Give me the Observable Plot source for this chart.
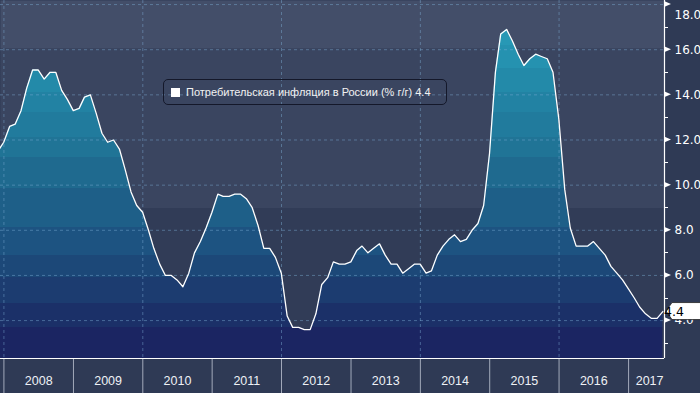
<!DOCTYPE html>
<html><head><meta charset="utf-8">
<script src="https://cdn.jsdelivr.net/npm/d3@7"></script>
<script src="https://cdn.jsdelivr.net/npm/@observablehq/plot@0.6"></script>
<style>
html,body{margin:0;padding:0;background:#2f3a55;}
#wrap{position:relative;width:700px;height:393px;overflow:hidden;}
#legend{position:absolute;left:163px;top:79px;width:282px;height:24px;border:1.5px solid #14182a;border-radius:5px;font:11px "Liberation Sans",Arial,sans-serif;color:#f2f2f2;}
#legend .sw{position:absolute;left:7px;top:7.5px;width:9px;height:9px;background:#fff;}
#legend .tx{position:absolute;left:22px;top:0;line-height:24px;white-space:nowrap;}
</style></head><body><div id="wrap"></div>
<script>
// Russia consumer inflation, % y/y, monthly (plotted at month end)
const cpi2007 = [11.5, 11.9]; // Nov, Dec
const cpi2008 = [12.6, 12.7, 13.3, 14.3, 15.1, 15.1, 14.7, 15.0, 15.0, 14.2, 13.8, 13.3];
const cpi2009 = [13.4, 13.9, 14.0, 13.2, 12.3, 11.9, 12.0, 11.6, 10.7, 9.7, 9.1, 8.8];
const cpi2010 = [8.0, 7.2, 6.5, 6.0, 6.0, 5.8, 5.5, 6.1, 7.0, 7.5, 8.1, 8.8];
const cpi2011 = [9.6, 9.5, 9.5, 9.6, 9.6, 9.4, 9.0, 8.2, 7.2, 7.2, 6.8, 6.1];
const cpi2012 = [4.2, 3.7, 3.7, 3.6, 3.6, 4.3, 5.6, 5.9, 6.6, 6.5, 6.5, 6.6];
const cpi2013 = [7.1, 7.3, 7.0, 7.2, 7.4, 6.9, 6.5, 6.5, 6.1, 6.3, 6.5, 6.5];
const cpi2014 = [6.1, 6.2, 6.9, 7.3, 7.6, 7.8, 7.5, 7.6, 8.0, 8.3, 9.1, 11.4];
const cpi2015 = [15.0, 16.7, 16.9, 16.4, 15.8, 15.3, 15.6, 15.8, 15.7, 15.6, 15.0, 12.9];
const cpi2016 = [9.8, 8.1, 7.3, 7.3, 7.3, 7.5, 7.2, 6.9, 6.4, 6.1, 5.8, 5.4];
const cpi2017 = [5.0, 4.6, 4.3, 4.1, 4.1, 4.4];

const seriesName = "Потребительская инфляция в России (% г/г)";
const yearLabels = ["2008","2009","2010","2011","2012","2013","2014","2015","2016","2017"];
const majorTicks = [4, 6, 8, 10, 12, 14, 16, 18];
const minorTicks = [3, 5, 7, 9, 11, 13, 15, 17];
const xDomain = [new Date(Date.UTC(2007, 11, 14)), new Date(Date.UTC(2017, 6, 9))];
const yDomain = [2.32, 18.18];

const blocks = [[2007, 10, cpi2007], [2008, 0, cpi2008], [2009, 0, cpi2009], [2010, 0, cpi2010],
  [2011, 0, cpi2011], [2012, 0, cpi2012], [2013, 0, cpi2013], [2014, 0, cpi2014],
  [2015, 0, cpi2015], [2016, 0, cpi2016], [2017, 0, cpi2017]];
const data = [];
for (const [yr, m0, vals] of blocks) vals.forEach((v, i) => data.push({date: new Date(Date.UTC(yr, m0 + i + 1, 0)), value: v}));
const last = data[data.length - 1];

const yearStarts = yearLabels.map(y => new Date(Date.UTC(+y, 0, 1)));
const gridYears = yearStarts.filter((d, i) => i % 2 === 0);
const yearMid = y => {
  const a = Math.max(+new Date(Date.UTC(+y, 0, 1)), +xDomain[0]);
  const b = Math.min(+new Date(Date.UTC(+y + 1, 0, 1)), +xDomain[1]);
  return new Date((a + b) / 2);
};

// style: stepped colour bands (pixel bands, as in the terminal chart)
const bgBands = [[0, 48, "#434e69"], [48, 207, "#3a4560"], [207, 358, "#313c57"]];
const areaBands = [[0,45,"#2798b5"],[45,68,"#2592b0"],[68,92,"#238aa9"],[92,112,"#2282a3"],[112,137,"#217b9d"],
  [137,157,"#207496"],[157,188,"#1f6a8f"],[188,227,"#1e5f88"],[227,255,"#1d5381"],[255,277,"#1c4878"],
  [277,303,"#1c3c70"],[303,327,"#1b3068"],[327,358,"#1b2562"]];

function defsMark(index, scales, values, dimensions) {
  const defs = d3.create("svg:defs");
  const bottom = dimensions.height - dimensions.marginBottom;
  for (const [id, bands] of [["bgGrad", bgBands], ["areaGrad", areaBands]]) {
    const g = defs.append("linearGradient").attr("id", id).attr("gradientUnits", "userSpaceOnUse")
      .attr("x1", 0).attr("x2", 0).attr("y1", 0).attr("y2", bottom);
    for (const [a, b, c] of bands) {
      g.append("stop").attr("offset", a / bottom).attr("stop-color", c);
      g.append("stop").attr("offset", Math.min(1, b / bottom)).attr("stop-color", c);
    }
  }
  return defs.node();
}

function axisDecor(index, scales, values, dimensions) {
  const x0 = dimensions.width - dimensions.marginRight;
  const g = d3.create("svg:g").attr("class", "decor");
  for (const v of majorTicks) {
    const y = scales.y(v);
    g.append("path").attr("d", `M${x0},${y - 3}L${x0 + 7},${y}L${x0},${y + 3}Z`).attr("fill", "#fff");
  }
  for (const v of minorTicks) {
    const y = Math.round(scales.y(v)) + 0.5;
    g.append("line").attr("x1", x0).attr("x2", x0 + 4).attr("y1", y).attr("y2", y).attr("stroke", "#fff");
  }
  const y = scales.y(last.value);
  g.append("path")
    .attr("d", `M${x0 + 2},${y}L${x0 + 8},${y - 8.5}H${dimensions.width + 2}V${y + 8.5}H${x0 + 8}Z`)
    .attr("fill", "#fff").attr("stroke", "#222").attr("stroke-width", 0.8);
  g.append("text").attr("x", x0 + 10).attr("y", y).attr("dy", "0.36em")
    .attr("fill", "#000").attr("font-family", "'DejaVu Sans', sans-serif").attr("font-size", 12.5)
    .text(last.value.toFixed(1));
  return g.node();
}

const gridStyle = {stroke: "#7fb0d6", strokeOpacity: 0.45, strokeDasharray: "3,3"};
const labelStyle = {fill: "#eef1f5", fontSize: 12.5, fontFamily: "'Liberation Sans', Arial, sans-serif"};

const chart = Plot.plot({
  width: 700, height: 393,
  marginLeft: 0, marginRight: 36, marginTop: 0, marginBottom: 35,
  style: {background: "#2f3a55", color: "#ffffff", fontFamily: "'DejaVu Sans', sans-serif", fontSize: "12px"},
  x: {type: "utc", domain: xDomain, axis: "bottom", ticks: yearStarts, tickSize: 35, tickFormat: () => "", label: null},
  y: {domain: yDomain, axis: "right", ticks: majorTicks, tickSize: 0, tickPadding: 10, tickFormat: d => d.toFixed(1), label: null},
  marks: [
    defsMark,
    Plot.frame({fill: "url(#bgGrad)", stroke: "none"}),
    Plot.area(data, {x1: "date", y1: () => yDomain[0], y2: "value", fill: "url(#areaGrad)"}),
    Plot.ruleY(majorTicks, gridStyle),
    Plot.ruleX(gridYears, gridStyle),
    Plot.line(data, {x: "date", y: "value", stroke: "#ffffff", strokeWidth: 1.3}),
    Plot.ruleY([yDomain[0]], {stroke: "#ffffff", strokeWidth: 1.2}),
    Plot.ruleX([xDomain[1]], {stroke: "#ffffff", strokeWidth: 1.2}),
    Plot.text(yearLabels.slice(0, -1), {x: yearMid, text: d => d, frameAnchor: "bottom", dy: 26, ...labelStyle}),
    Plot.text(yearLabels.slice(-1), {x: () => xDomain[1], text: d => d, frameAnchor: "bottom", dy: 26, textAnchor: "end", dx: -1, ...labelStyle}),
    axisDecor
  ]
});

const svg = d3.select(chart);
svg.selectAll('[aria-label^="x-axis"]').style("color", "#a3aabb");
svg.selectAll('[aria-label^="y-axis"] text').filter(function() { return this.textContent === "18.0"; }).attr("dy", "0.85em");
svg.selectAll("g.decor").each(function() { chart.appendChild(this); });
const wrap = document.getElementById("wrap");
wrap.appendChild(chart);
const legend = document.createElement("div");
legend.id = "legend";
legend.innerHTML = `<div class="sw"></div><div class="tx"></div>`;
legend.querySelector(".tx").textContent = `${seriesName} ${last.value.toFixed(1)}`;
wrap.appendChild(legend);
</script></body></html>
